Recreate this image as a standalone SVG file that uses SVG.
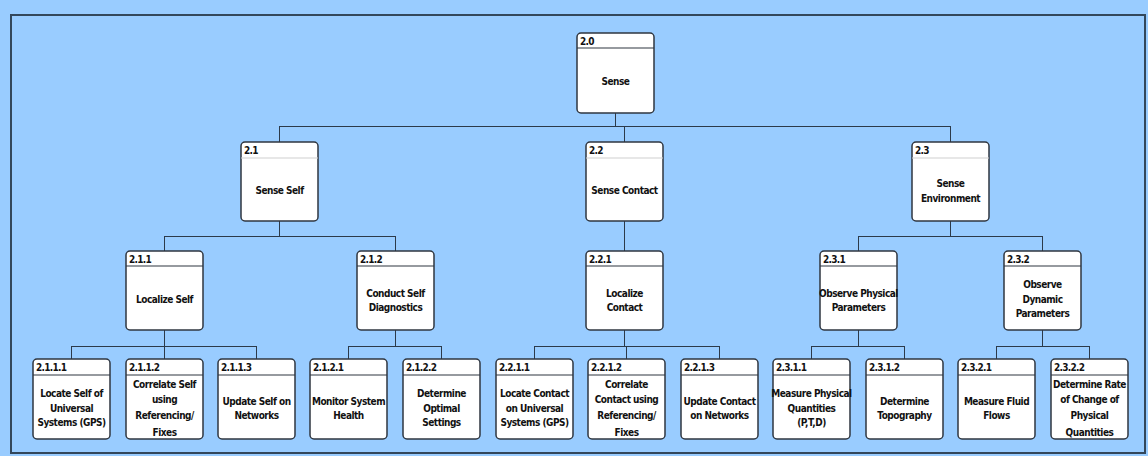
<svg xmlns="http://www.w3.org/2000/svg" width="1148" height="456" viewBox="0 0 1148 456">
<style>
.box{fill:#fff;stroke:#2f3640;stroke-width:1.5}
.hd{stroke:#2f3640;stroke-width:1.2}
.hdl{stroke:#d0d0d0;stroke-width:1.2}
.id{font-family:"DejaVu Sans Condensed","Liberation Sans Narrow","Liberation Sans",sans-serif;font-weight:bold;font-size:10px;letter-spacing:-0.7px;fill:#111}
.lb{font-family:"DejaVu Sans Condensed","Liberation Sans Narrow","Liberation Sans",sans-serif;font-weight:bold;font-size:10px;letter-spacing:-0.5px;fill:#111;text-anchor:middle}
.cn{stroke:#2c3a4a;stroke-width:1;fill:none}
</style>
<rect x="0" y="0" width="1148" height="456" fill="#99ccff"/>
<rect x="11" y="15" width="1134" height="438" fill="#99ccff" stroke="#33475b" stroke-width="2"/>
<g id="connectors">
<path class="cn" d="M615.5 113V126.5M279.5 126.5H950.5M279.5 126V142M624.5 126V142M950.5 126V142"/>
<path class="cn" d="M279.5 221V236.5M164.5 236.5H395.5M164.5 236V251M395.5 236V251"/>
<path class="cn" d="M624.5 221V251"/>
<path class="cn" d="M950.5 221V236.5M858.5 236.5H1042.5M858.5 236V251M1042.5 236V251"/>
<path class="cn" d="M164.5 330V346.5M71.5 346.5H256.5M71.5 346V359M164.5 346V359M256.5 346V359"/>
<path class="cn" d="M395.5 330V346.5M348.5 346.5H441.5M348.5 346V359M441.5 346V359"/>
<path class="cn" d="M624.5 330V346.5M534.5 346.5H719.5M534.5 346V359M626.5 346V359M719.5 346V359"/>
<path class="cn" d="M858.5 330V346.5M811.5 346.5H904.5M811.5 346V359M904.5 346V359"/>
<path class="cn" d="M1042.5 330V346.5M996.5 346.5H1089.5M996.5 346V359M1089.5 346V359"/>
</g>
<g id="n2_0"><rect class="box" x="577" y="33" width="77" height="80" rx="4"/><line class="hd" x1="577" y1="48" x2="654" y2="48"/><text class="id" x="580" y="45">2.0</text><text class="lb" x="615.5" y="85">Sense</text></g>
<g id="n2_1"><rect class="box" x="241" y="142" width="77" height="79" rx="4"/><line class="hdl" x1="241" y1="158" x2="318" y2="158"/><text class="id" x="244" y="154">2.1</text><text class="lb" x="279.5" y="194">Sense Self</text></g>
<g id="n2_2"><rect class="box" x="586" y="142" width="77" height="79" rx="4"/><line class="hdl" x1="586" y1="158" x2="663" y2="158"/><text class="id" x="589" y="154">2.2</text><text class="lb" x="624.5" y="194">Sense Contact</text></g>
<g id="n2_3"><rect class="box" x="912" y="142" width="77" height="79" rx="4"/><line class="hdl" x1="912" y1="158" x2="989" y2="158"/><text class="id" x="915" y="154">2.3</text><text class="lb" x="950.5" y="187">Sense</text><text class="lb" x="950.5" y="202">Environment</text></g>
<g id="n2_1_1"><rect class="box" x="126" y="251" width="77" height="79" rx="4"/><line class="hd" x1="126" y1="266" x2="203" y2="266"/><text class="id" x="129" y="263">2.1.1</text><text class="lb" x="164.5" y="303">Localize Self</text></g>
<g id="n2_1_2"><rect class="box" x="357" y="251" width="77" height="79" rx="4"/><line class="hd" x1="357" y1="266" x2="434" y2="266"/><text class="id" x="360" y="263">2.1.2</text><text class="lb" x="395.5" y="297">Conduct Self</text><text class="lb" x="395.5" y="311">Diagnostics</text></g>
<g id="n2_2_1"><rect class="box" x="586" y="251" width="77" height="79" rx="4"/><line class="hd" x1="586" y1="266" x2="663" y2="266"/><text class="id" x="589" y="263">2.2.1</text><text class="lb" x="624.5" y="297">Localize</text><text class="lb" x="624.5" y="311">Contact</text></g>
<g id="n2_3_1"><rect class="box" x="820" y="251" width="77" height="79" rx="4"/><line class="hd" x1="820" y1="266" x2="897" y2="266"/><text class="id" x="823" y="263">2.3.1</text><text class="lb" x="858.5" y="297">Observe Physical</text><text class="lb" x="858.5" y="311">Parameters</text></g>
<g id="n2_3_2"><rect class="box" x="1004" y="251" width="77" height="79" rx="4"/><line class="hd" x1="1004" y1="266" x2="1081" y2="266"/><text class="id" x="1007" y="263">2.3.2</text><text class="lb" x="1042.5" y="288">Observe</text><text class="lb" x="1042.5" y="303">Dynamic</text><text class="lb" x="1042.5" y="317">Parameters</text></g>
<g id="n2_1_1_1"><rect class="box" x="33" y="359" width="77" height="80" rx="4"/><line class="hd" x1="33" y1="375" x2="110" y2="375"/><text class="id" x="36" y="371">2.1.1.1</text><text class="lb" x="71.5" y="397">Locate Self of</text><text class="lb" x="71.5" y="412">Universal</text><text class="lb" x="71.5" y="426">Systems (GPS)</text></g>
<g id="n2_1_1_2"><rect class="box" x="126" y="359" width="77" height="80" rx="4"/><line class="hd" x1="126" y1="375" x2="203" y2="375"/><text class="id" x="129" y="371">2.1.1.2</text><text class="lb" x="164.5" y="388">Correlate Self</text><text class="lb" x="164.5" y="403">using</text><text class="lb" x="164.5" y="419">Referencing/</text><text class="lb" x="164.5" y="436">Fixes</text></g>
<g id="n2_1_1_3"><rect class="box" x="218" y="359" width="77" height="80" rx="4"/><line class="hd" x1="218" y1="375" x2="295" y2="375"/><text class="id" x="221" y="371">2.1.1.3</text><text class="lb" x="256.5" y="405">Update Self on</text><text class="lb" x="256.5" y="419">Networks</text></g>
<g id="n2_1_2_1"><rect class="box" x="310" y="359" width="77" height="80" rx="4"/><line class="hd" x1="310" y1="375" x2="387" y2="375"/><text class="id" x="313" y="371">2.1.2.1</text><text class="lb" x="348.5" y="405">Monitor System</text><text class="lb" x="348.5" y="419">Health</text></g>
<g id="n2_1_2_2"><rect class="box" x="403" y="359" width="77" height="80" rx="4"/><line class="hd" x1="403" y1="375" x2="480" y2="375"/><text class="id" x="406" y="371">2.1.2.2</text><text class="lb" x="441.5" y="397">Determine</text><text class="lb" x="441.5" y="412">Optimal</text><text class="lb" x="441.5" y="426">Settings</text></g>
<g id="n2_2_1_1"><rect class="box" x="496" y="359" width="77" height="80" rx="4"/><line class="hd" x1="496" y1="375" x2="573" y2="375"/><text class="id" x="499" y="371">2.2.1.1</text><text class="lb" x="534.5" y="397">Locate Contact</text><text class="lb" x="534.5" y="412">on Universal</text><text class="lb" x="534.5" y="426">Systems (GPS)</text></g>
<g id="n2_2_1_2"><rect class="box" x="588" y="359" width="77" height="80" rx="4"/><line class="hd" x1="588" y1="375" x2="665" y2="375"/><text class="id" x="591" y="371">2.2.1.2</text><text class="lb" x="626.5" y="388">Correlate</text><text class="lb" x="626.5" y="403">Contact using</text><text class="lb" x="626.5" y="419">Referencing/</text><text class="lb" x="626.5" y="436">Fixes</text></g>
<g id="n2_2_1_3"><rect class="box" x="681" y="359" width="77" height="80" rx="4"/><line class="hd" x1="681" y1="375" x2="758" y2="375"/><text class="id" x="684" y="371">2.2.1.3</text><text class="lb" x="719.5" y="405">Update Contact</text><text class="lb" x="719.5" y="419">on Networks</text></g>
<g id="n2_3_1_1"><rect class="box" x="773" y="359" width="77" height="80" rx="4"/><line class="hd" x1="773" y1="375" x2="850" y2="375"/><text class="id" x="776" y="371">2.3.1.1</text><text class="lb" x="811.5" y="397">Measure Physical</text><text class="lb" x="811.5" y="412">Quantities</text><text class="lb" x="811.5" y="426">(P,T,D)</text></g>
<g id="n2_3_1_2"><rect class="box" x="866" y="359" width="77" height="80" rx="4"/><line class="hd" x1="866" y1="375" x2="943" y2="375"/><text class="id" x="869" y="371">2.3.1.2</text><text class="lb" x="904.5" y="405">Determine</text><text class="lb" x="904.5" y="419">Topography</text></g>
<g id="n2_3_2_1"><rect class="box" x="958" y="359" width="77" height="80" rx="4"/><line class="hd" x1="958" y1="375" x2="1035" y2="375"/><text class="id" x="961" y="371">2.3.2.1</text><text class="lb" x="996.5" y="405">Measure Fluid</text><text class="lb" x="996.5" y="419">Flows</text></g>
<g id="n2_3_2_2"><rect class="box" x="1051" y="359" width="77" height="80" rx="4"/><line class="hd" x1="1051" y1="375" x2="1128" y2="375"/><text class="id" x="1054" y="371">2.3.2.2</text><text class="lb" x="1089.5" y="388">Determine Rate</text><text class="lb" x="1089.5" y="403">of Change of</text><text class="lb" x="1089.5" y="419">Physical</text><text class="lb" x="1089.5" y="436">Quantities</text></g>
</svg>
